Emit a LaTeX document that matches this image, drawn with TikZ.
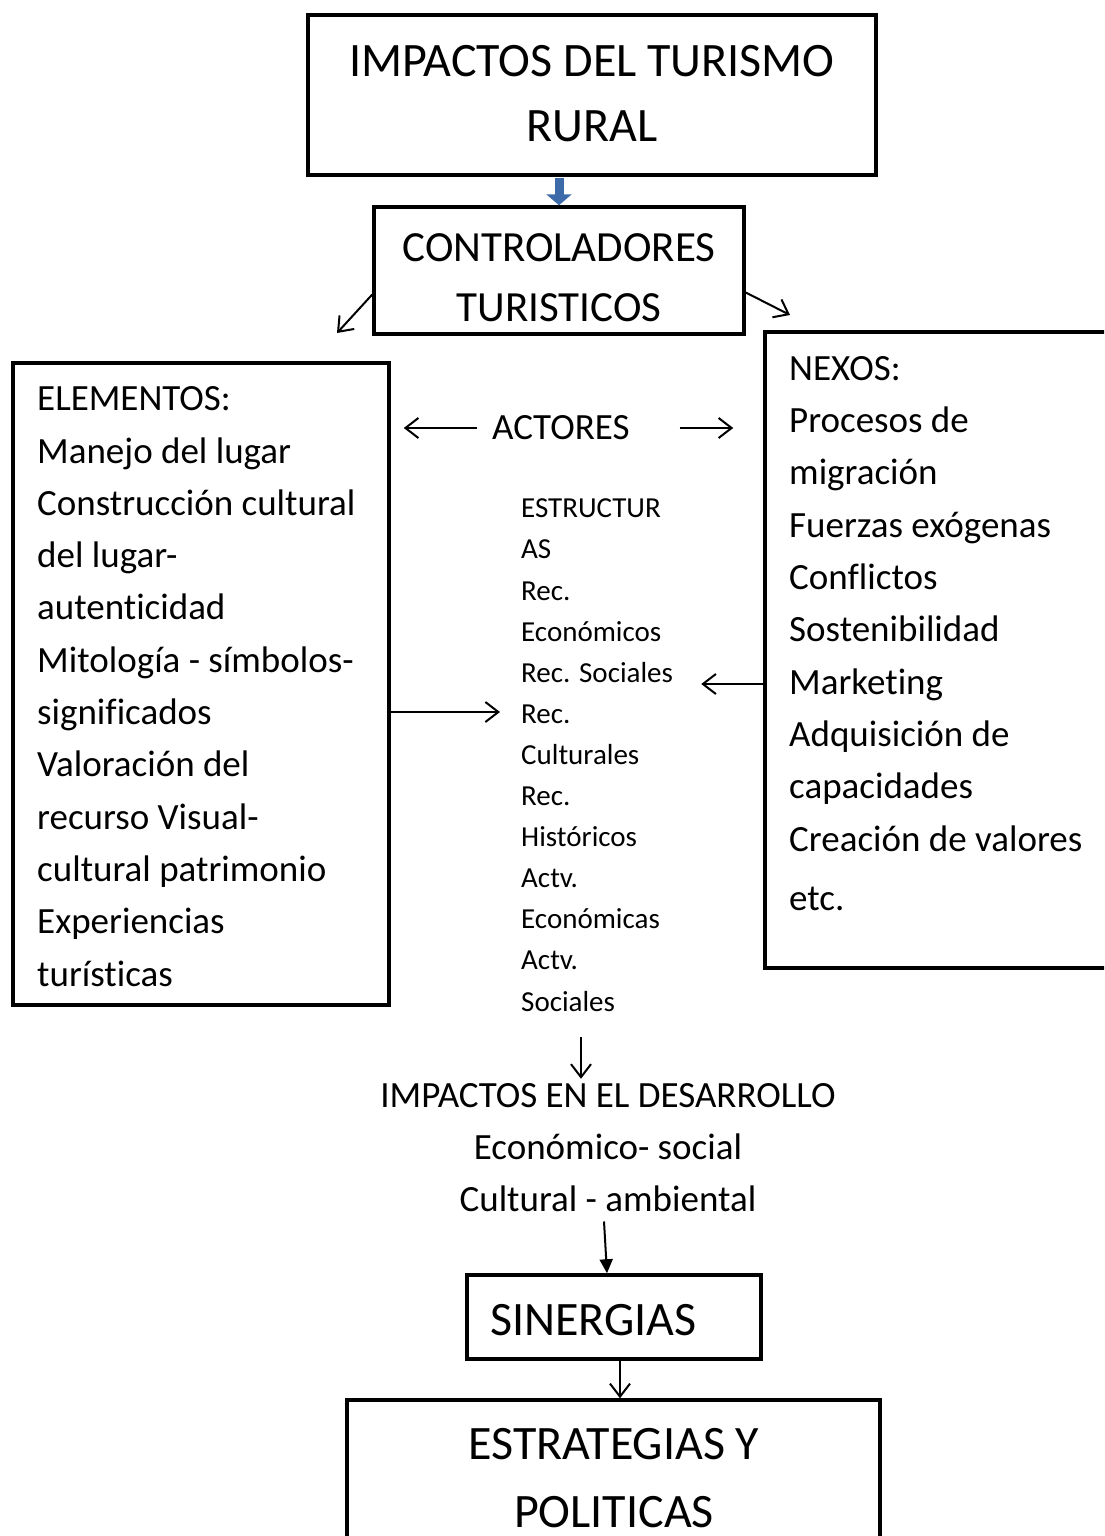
\documentclass[tikz,border=0pt]{standalone}
\usepackage{fontspec}
\setmainfont{Carlito}[Ligatures=NoCommon]
\usepackage{xcolor}
\usepackage{tikz}
\usetikzlibrary{arrows.meta,positioning,calc}

\definecolor{arrowblue}{RGB}{61,106,168}

\tikzset{
    box/.style={draw, line width=3.5pt, inner sep=0pt},
    arr/.style={line width=2pt, -{Straight Barb[length=13pt,width=20pt]}},
    lefttxt/.style={inner sep=0pt, align=left, anchor=base west},
    midtxt/.style={inner sep=0pt, align=center, anchor=base},
}

\begin{document}
\begin{tikzpicture}[x=1pt,y=-1pt]
    \clip (0,0) rectangle (1104,1536);
    \fill[white] (0,0) rectangle (1104,1536);

    \node[box, minimum width=568pt, minimum height=160pt] (title) at (592,95) {};
    \node[box, minimum width=370pt, minimum height=127pt] (ctrl) at (559,270.5) {};
    \node[box, minimum width=376pt, minimum height=642pt] (elem) at (201,684) {};
    \node[box, minimum width=360pt, minimum height=636pt] (nexos) at (945,650) {};
    \node[box, minimum width=294pt, minimum height=84pt] (sin) at (614,1317) {};
    \node[box, minimum width=533pt, minimum height=170pt] (estr) at (613.5,1485) {};

    % anchors sit on the baseline of the last line
    \node[midtxt, font=\fontsize{48}{66}\selectfont] (titletxt) at (592,142) {IMPACTOS DEL TURISMO\\RURAL};
    \node[midtxt, font=\fontsize{43}{60}\selectfont] (ctrltxt) at (559,321) {CONTROLADORES\\TURISTICOS};
    \node[lefttxt, font=\fontsize{37}{52.3}\selectfont] (elemtxt) at (37,986) {ELEMENTOS:\\Manejo del lugar\\Construcción cultural\\del lugar-\\autenticidad\\Mitología - símbolos-\\significados\\Valoración del\\recurso Visual-\\cultural patrimonio\\Experiencias\\turísticas};
    \node[lefttxt, font=\fontsize{37}{52.3}\selectfont] (nexostxt) at (789,910) {NEXOS:\\Procesos de\\migración\\Fuerzas exógenas\\Conflictos\\Sostenibilidad\\Marketing\\Adquisición de\\capacidades\\Creación de valores\\[6.7pt]etc.};
    \node[lefttxt, font=\fontsize{37}{44}\selectfont] (actores) at (492,439) {ACTORES};
    \node[lefttxt, font=\fontsize{29}{41.1}\selectfont] (estruct) at (521,1011) {ESTRUCTUR\\AS\\Rec.\\Económicos\\Rec. Sociales\\Rec.\\Culturales\\Rec.\\Históricos\\Actv.\\Económicas\\Actv.\\Sociales};
    \node[midtxt, font=\fontsize{37}{52}\selectfont] (impact) at (608,1211) {IMPACTOS EN EL DESARROLLO\\Económico- social\\Cultural - ambiental};
    \node[lefttxt, font=\fontsize{48}{60}\selectfont] (sintxt) at (490,1335) {SINERGIAS};
    \node[midtxt, font=\fontsize{48}{68}\selectfont] (estrtxt) at (614,1527) {ESTRATEGIAS Y\\POLITICAS};

    \coordinate (elemtip) at (337,333);
    \coordinate (nexostip) at (790,315);
    \coordinate (actleft) at ([xshift=-15pt,yshift=11pt]actores.base west);
    \coordinate (actright) at ([xshift=50pt,yshift=11pt]actores.base east);
    \coordinate (downstart) at ([xshift=60pt,yshift=-26pt]estruct.south west);

    \draw[line width=9pt, arrowblue, -{Triangle[length=11pt,width=25pt]}] ([yshift=-1pt]ctrl.north |- title.south) -- (ctrl.north);
    \draw[arr] ([yshift=-24pt]ctrl.west) -- (elemtip);
    \draw[arr] ([yshift=-22pt]ctrl.east) -- (nexostip);
    \draw[arr] (actleft) -- ([xshift=13pt]elem.east |- actleft);
    \draw[arr] (actright) -- ([xshift=-30pt]nexos.west |- actright);
    \draw[arr] (elem.east |- 0,712) -- ([xshift=-21pt]estruct.west |- 0,712);
    \draw[arr] (nexos.west |- 0,684) -- ([xshift=-62pt]nexos.west |- 0,684);
    \draw[arr] (downstart) -- ([yshift=4pt]downstart |- impact.north);
    \draw[line width=2pt, -{Triangle[length=14pt,width=13pt]}] ([xshift=-4pt,yshift=-10pt]impact.south) -- ([xshift=-7pt]sin.north);
    \draw[arr] ([xshift=6pt]sin.south) -- ([xshift=6pt]sin.south |- estr.north);
\end{tikzpicture}
\end{document}
